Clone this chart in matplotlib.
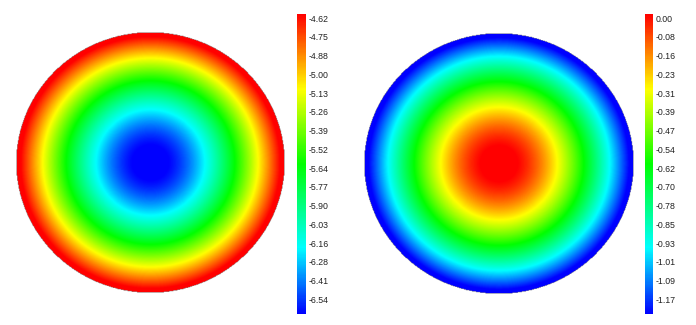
import numpy as np
import matplotlib
matplotlib.use("Agg")
import matplotlib.pyplot as plt
from matplotlib.colors import LinearSegmentedColormap, Normalize

W, H = 696, 325

# colorbar tick labels (top to bottom)
left_labels = ["-4.62", "-4.75", "-4.88", "-5.00", "-5.13", "-5.26", "-5.39", "-5.52",
               "-5.64", "-5.77", "-5.90", "-6.03", "-6.16", "-6.28", "-6.41", "-6.54"]
right_labels = ["0.00", "-0.08", "-0.16", "-0.23", "-0.31", "-0.39", "-0.47", "-0.54",
                "-0.62", "-0.70", "-0.78", "-0.85", "-0.93", "-1.01", "-1.09", "-1.17"]

# colour range of each bar (16 bins, label at top of each bin)
left_range = (-6.668, -4.62)
right_range = (-1.248, 0.00)

# surfaces: z = base + slope * sqrt(r^2 + tip^2)  (rounded cone)
tip = 0.5
left_base, left_slope = -8.523, 3.584
right_base, right_slope = 1.131, -2.184

cmap = LinearSegmentedColormap.from_list(
    "rainbow5",
    [(0.0, "#0000ff"), (0.22, "#00ffff"), (0.5, "#00ff00"),
     (0.75, "#ffff00"), (1.0, "#ff0000")])

def px_axes(fig, x0, y0, x1, y1):
    # pixel box (top-left origin) -> figure axes
    return fig.add_axes([x0 / W, (H - y1) / H, (x1 - x0) / W, (y1 - y0) / H])

n = 400
g = np.linspace(-1, 1, n)
xx, yy = np.meshgrid(g, g)
rr2 = xx ** 2 + yy ** 2
s = np.sqrt(rr2 + tip ** 2)

fig = plt.figure(figsize=(W / 100, H / 100), dpi=100)
fig.patch.set_facecolor("white")

panels = [
    ((16, 32, 285, 293), (297, 14, 305.5, 314), left_base, left_slope, left_range, left_labels),
    ((364, 33, 634, 294), (644.5, 14, 653, 314), right_base, right_slope, right_range, right_labels),
]

for box, cbox, b0, k, (vmin, vmax), labels in panels:
    ax = px_axes(fig, *box)
    z = np.ma.masked_where(rr2 > 1.0, b0 + k * s)
    im = ax.imshow(z, cmap=cmap, norm=Normalize(vmin=vmin, vmax=vmax),
                   extent=(-1, 1, -1, 1), origin="lower", aspect="auto",
                   interpolation="bilinear")
    ax.set_xlim(-1, 1)
    ax.set_ylim(-1, 1)
    ax.set_axis_off()

    cax = px_axes(fig, *cbox)
    cb = fig.colorbar(im, cax=cax)
    cb.outline.set_visible(False)
    cax.set_yticks([])
    cax.set_xticks([])
    nb = len(labels)
    for i, lab in enumerate(labels):
        cax.text(1.35, 1 - (i + 0.27) / nb, lab, transform=cax.transAxes,
                 ha="left", va="center", fontsize=6.3, color="#222222",
                 family="Liberation Sans")

fig.savefig("out.png", dpi=100, facecolor="white")
